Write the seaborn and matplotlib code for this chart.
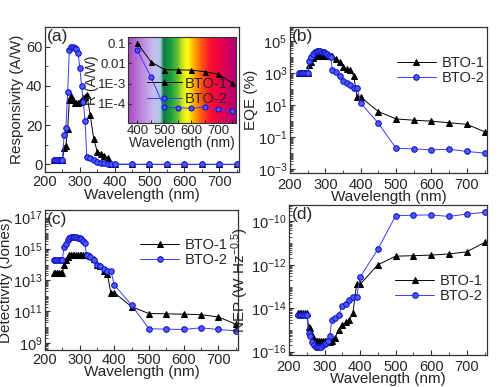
import numpy as np
import pandas as pd
import matplotlib
matplotlib.use("Agg")
import matplotlib.pyplot as plt
import matplotlib.ticker as mticker
from matplotlib.colors import LinearSegmentedColormap
import seaborn as sns

sns.set_style("ticks")
plt.rcParams['font.family'] = ['Liberation Sans', 'DejaVu Sans']
plt.rcParams['mathtext.fontset'] = 'custom'
plt.rcParams['mathtext.rm'] = 'Liberation Sans'
plt.rcParams['mathtext.it'] = 'Liberation Sans:italic'
plt.rcParams['mathtext.bf'] = 'Liberation Sans:bold'

# ---------------- data ----------------
wavelength = [225, 230, 235, 240, 245, 250, 255, 260, 265, 270, 275, 280, 285, 290,
              295, 300, 305, 310, 315, 320, 330, 340, 350, 360, 370, 380, 390, 400,
              450, 500, 550, 600, 650, 700, 750]

resp_bto1 = [2.0, 2.0, 2.0, 2.0, 2.0, 2.0, 8.5, 9.5, 18, 33, 35, 33, 31.5, 31.5,
             31.5, 32, 33, 34, 34.5, 35.5, 25, 13, 6.5, 5.5, 4.5, 3.0, 0.3, 0.1,
             0.012, 0.0049, 0.0048, 0.0046, 0.0039, 0.0029, 0.0011]
resp_bto2 = [2.2, 2.2, 2.2, 2.2, 2.2, 2.2, 15, 18.5, 37, 58.5, 60, 60, 59.5, 59,
             57, 49, 40, 32, 22, 4.0, 3.1, 2.0, 1.2, 0.75, 0.55, 0.4, 0.36, 0.044,
             0.0021, 6.6e-5, 6.4e-5, 5.9e-5, 6.8e-5, 5.5e-5, 4.2e-5]

inset_wl = [400, 450, 500, 550, 600, 650, 700, 750]
inset_bto1 = [0.1, 0.012, 0.0049, 0.0048, 0.0046, 0.0039, 0.0029, 0.0011]
inset_bto2 = [0.044, 0.0021, 6.6e-5, 6.4e-5, 5.9e-5, 6.8e-5, 5.5e-5, 4.2e-5]

eqe_log_bto1 = [3.0, 3.0, 3.0, 3.0, 3.0, 3.0, 3.5, 3.7, 3.94, 4.06, 4.1, 4.1, 4.1, 4.1,
                4.1, 4.1, 4.1, 4.1, 4.1, 4.06, 3.9, 3.7, 3.4, 3.26, 3.2, 2.85, 1.5, 1.5,
                0.6, 0.14, 0.06, 0.0, -0.1, -0.2, -0.66]
eqe_log_bto2 = [3.0, 3.0, 3.0, 3.0, 3.0, 3.0, 3.8, 4.0, 4.2, 4.34, 4.4, 4.4, 4.38, 4.36,
                4.33, 4.3, 4.2, 4.1, 4.0, 3.2, 3.06, 2.86, 2.54, 2.4, 2.26, 2.1, 2.1, 1.14,
                -0.14, -1.7, -1.74, -1.8, -1.76, -1.9, -2.0]

det_log_bto1 = [13.43, 13.43, 13.43, 13.43, 13.43, 13.43, 14.0, 14.3, 14.5, 14.6, 14.6, 14.6,
                14.6, 14.6, 14.6, 14.6, 14.6, 14.6, 14.6, 14.6, 14.55, 14.35, 13.96, 13.9,
                13.6, 13.4, 12.2, 12.2, 11.3, 10.87, 10.85, 10.83, 10.8, 10.65, 10.2]
det_log_bto2 = [14.3, 14.3, 14.3, 14.3, 14.3, 14.3, 15.1, 15.3, 15.55, 15.7, 15.77, 15.77,
                15.77, 15.75, 15.72, 15.68, 15.6, 15.5, 15.35, 14.6, 14.5, 14.3, 13.96, 13.9,
                13.7, 13.6, 13.6, 12.7, 11.4, 9.9, 9.87, 9.85, 9.96, 9.85, 9.77]

nep_log_bto1 = [-14.2, -14.2, -14.2, -14.2, -14.2, -14.2, -14.85, -14.9, -15.23, -15.46,
                -15.5, -15.5, -15.5, -15.5, -15.5, -15.5, -15.5, -15.5, -15.55, -15.5,
                -15.35, -15.0, -14.77, -14.65, -14.55, -14.2, -12.9, -12.9, -12.0, -11.6,
                -11.58, -11.55, -11.5, -11.4, -10.97]
nep_log_bto2 = [-14.3, -14.3, -14.3, -14.3, -14.3, -14.3, -15.15, -15.3, -15.55, -15.7,
                -15.77, -15.77, -15.77, -15.77, -15.7, -15.65, -15.6, -15.5, -15.3, -14.54,
                -14.45, -14.3, -13.9, -13.8, -13.6, -13.5, -13.5, -12.57, -11.28, -9.74,
                -9.71, -9.7, -9.77, -9.66, -9.58]

# ---------------- styling ----------------
BLUE = '#3a3aff'
BLACK = '#000000'
FS_TICK = 10.5
FS_LABEL = 11
FS_LEG = 10.5
FS_PANEL = 12.5

fig = plt.figure(figsize=(5.0, 3.87), dpi=100)

def style_axis(ax, xpad=2):
    for s in ax.spines.values():
        s.set_linewidth(0.9)
        s.set_color('#333333')
        s.set_visible(True)
    ax.tick_params(direction='in', which='both', top=False, right=False,
                   labelsize=FS_TICK, pad=2, color='#333333')
    ax.tick_params(axis='x', pad=xpad)
    ax.tick_params(which='major', length=3.5, width=0.8)
    ax.tick_params(which='minor', length=2, width=0.6)
    ax.set_xlim(200, 757)
    ax.xaxis.set_major_locator(mticker.FixedLocator([200, 300, 400, 500, 600, 700]))
    ax.xaxis.set_minor_locator(mticker.FixedLocator([250, 350, 450, 550, 650, 750]))
    ax.set_xlabel('Wavelength (nm)', fontsize=FS_LABEL, labelpad=-1)
    ax.grid(False)

def draw(ax, x, y1, y2, ms=4.0):
    sns.lineplot(x=x, y=y1, ax=ax, color=BLACK, marker='^', markersize=ms,
                 markeredgecolor=BLACK, linewidth=0.7, label='BTO-1', legend=False)
    sns.lineplot(x=x, y=y2, ax=ax, color=BLUE, marker='o', markersize=ms,
                 markeredgecolor='#1010c0', markerfacecolor='#4b5bff',
                 linewidth=0.7, label='BTO-2', legend=False)

def add_legend(ax, **kw):
    ax.legend(frameon=False, fontsize=FS_LEG, handlelength=2.7,
              handletextpad=0.35, labelspacing=0.05, borderaxespad=0.2, **kw)

def log_axis(ax, labeled_exps, lo, hi):
    ax.set_yscale('log')
    ax.set_ylim(10 ** lo, 10 ** hi)
    ax.yaxis.set_major_locator(mticker.FixedLocator([10.0 ** e for e in labeled_exps]))
    ax.yaxis.set_major_formatter(mticker.FuncFormatter(
        lambda v, p: r'$10^{%d}$' % int(round(np.log10(v)))))
    ax.yaxis.set_minor_locator(mticker.LogLocator(base=10, subs=np.arange(1, 10), numticks=40))
    ax.yaxis.set_minor_formatter(mticker.NullFormatter())

# (a)
axa = fig.add_axes([0.090, 0.555, 0.388, 0.375])
draw(axa, wavelength, resp_bto1, resp_bto2)
style_axis(axa)
axa.set_ylim(-4, 70)
axa.yaxis.set_major_locator(mticker.FixedLocator([0, 20, 40, 60]))
axa.yaxis.set_minor_locator(mticker.FixedLocator([10, 30, 50]))
axa.set_ylabel('Responsivity (A/W)', fontsize=FS_LABEL, labelpad=1)
axa.text(0.012, 0.985, '(a)', transform=axa.transAxes, fontsize=FS_PANEL, va='top', ha='left')

# inset
axi = fig.add_axes([0.256, 0.682, 0.216, 0.222])
stops = [(0.00, '#a848c0'), (0.12, '#bc84dc'), (0.24, '#c8bcf0'), (0.30, '#a8c8e0'),
         (0.33, '#0a7a40'), (0.40, '#1ea040'), (0.46, '#60c030'), (0.50, '#c8e020'),
         (0.55, '#ffff10'), (0.61, '#ffb000'), (0.68, '#ff5a10'), (0.76, '#ff1030'),
         (0.88, '#e00050'), (1.00, '#b00078')]
cmap = LinearSegmentedColormap.from_list('spec', stops)
grad = np.linspace(0, 1, 256).reshape(1, -1)
axi.imshow(grad, cmap=cmap, aspect='auto', extent=[0, 1, 0, 1],
           transform=axi.transAxes, zorder=0, interpolation='bilinear')
draw(axi, inset_wl, inset_bto1, inset_bto2, ms=3.6)
for s in axi.spines.values():
    s.set_linewidth(0.8)
    s.set_color('#333333')
axi.set_yscale('log')
axi.set_xlim(365, 765)
axi.set_ylim(1.1e-5, 0.2)
axi.xaxis.set_major_locator(mticker.FixedLocator([400, 500, 600, 700]))
axi.xaxis.set_minor_locator(mticker.FixedLocator([450, 550, 650, 750]))
axi.yaxis.set_major_locator(mticker.FixedLocator([0.1, 0.01, 1e-3, 1e-4]))
axi.yaxis.set_major_formatter(mticker.FixedFormatter(['0.1', '0.01', '1E-3', '1E-4']))
axi.yaxis.set_minor_locator(mticker.NullLocator())
axi.tick_params(direction='in', which='both', labelsize=9.5, pad=1.5, length=2.5, width=0.7)
axi.set_xlabel('Wavelength (nm)', fontsize=10, labelpad=-1)
axi.set_ylabel('R (A/W)', fontsize=10, labelpad=-1)
axi.legend(frameon=False, fontsize=10.5, handlelength=2.4, handletextpad=0.2,
           labelspacing=0.1, loc='center right', bbox_to_anchor=(1.045, 0.37))

# (b)
axb = fig.add_axes([0.580, 0.553, 0.394, 0.377])
draw(axb, wavelength, [10 ** v for v in eqe_log_bto1], [10 ** v for v in eqe_log_bto2])
style_axis(axb, xpad=3.5)
log_axis(axb, [-3, -1, 1, 3, 5], -3.25, 5.9)
axb.set_ylabel('EQE (%)', fontsize=FS_LABEL, labelpad=0)
add_legend(axb, loc='upper right', bbox_to_anchor=(1.03, 0.86))
axb.text(0.012, 0.985, '(b)', transform=axb.transAxes, fontsize=FS_PANEL, va='top', ha='left')

# (c)
axc = fig.add_axes([0.090, 0.096, 0.386, 0.362])
draw(axc, wavelength, [10 ** v for v in det_log_bto1], [10 ** v for v in det_log_bto2])
style_axis(axc)
log_axis(axc, [9, 11, 13, 15, 17], 8.55, 17.5)
axc.set_ylabel('Detectivity (Jones)', fontsize=FS_LABEL, labelpad=0)
add_legend(axc, loc='upper right', bbox_to_anchor=(0.99, 0.86))
axc.text(0.012, 0.985, '(c)', transform=axc.transAxes, fontsize=FS_PANEL, va='top', ha='left')

# (d)
axd = fig.add_axes([0.578, 0.083, 0.396, 0.388])
draw(axd, wavelength, [10 ** v for v in nep_log_bto1], [10 ** v for v in nep_log_bto2])
style_axis(axd, xpad=3.5)
log_axis(axd, [-16, -14, -12, -10], -16.15, -9.23)
axd.set_ylabel(r'NEP (W Hz$^{-0.5}$)', fontsize=FS_LABEL, labelpad=0)
add_legend(axd, loc='center right', bbox_to_anchor=(1.02, 0.44))
axd.text(0.012, 0.985, '(d)', transform=axd.transAxes, fontsize=FS_PANEL, va='top', ha='left')

fig.savefig('out.png', dpi=100, facecolor='white')
